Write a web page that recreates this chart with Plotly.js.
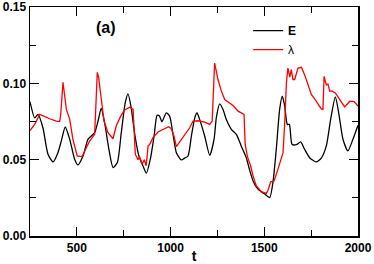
<!DOCTYPE html>
<html><head><meta charset="utf-8">
<script src="https://cdn.plot.ly/plotly-3.0.1.min.js"></script>
<style>html,body{margin:0;padding:0;background:#fff}#c{width:374px;height:264px}</style>
</head><body><div id="c"></div>
<script>
const tE = [250,275,293,319,346,373,399,417,438,462,488,506,533,559,577,595,613,630,648,671,693,716,737,758,773,790,809,831,853,871,892,912,928,940,954,977,995,1013,1031,1057,1075,1093,1111,1129,1141,1155,1182,1209,1232,1244,1262,1280,1297,1324,1351,1377,1404,1420,1440,1466,1502,1529,1546,1564,1582,1596,1609,1623,1634,1648,1671,1694,1715,1742,1777,1804,1831,1854,1879,1897,1920,1946,1973,2000];
const E = [0.088,0.0774,0.0797,0.0709,0.0536,0.0485,0.0546,0.0622,0.0714,0.0633,0.0503,0.0466,0.0524,0.0633,0.0655,0.0677,0.0753,0.0836,0.0742,0.0568,0.0448,0.0481,0.0677,0.0872,0.0931,0.0840,0.0666,0.0524,0.0459,0.0412,0.0503,0.0655,0.0790,0.0788,0.0748,0.0807,0.0785,0.0666,0.0546,0.0498,0.0510,0.0524,0.0655,0.0774,0.0807,0.0764,0.0655,0.0529,0.0633,0.0774,0.0866,0.0829,0.0764,0.0699,0.0666,0.0590,0.0513,0.0440,0.0361,0.0307,0.0275,0.0252,0.0350,0.0568,0.0829,0.0916,0.0851,0.0731,0.0730,0.0601,0.0598,0.0616,0.0568,0.0513,0.0485,0.0510,0.0590,0.0764,0.0911,0.0807,0.0633,0.0557,0.0633,0.0725];
const tL = [250,275,302,329,355,390,408,414,426,444,462,479,502,528,542,568,595,604,609,616,627,645,666,693,710,734,755,782,800,809,812,826,835,848,860,870,880,889,906,933,960,990,1004,1018,1031,1049,1075,1102,1120,1148,1182,1209,1222,1235,1253,1271,1289,1315,1333,1360,1392,1398,1410,1427,1440,1457,1484,1511,1520,1534,1552,1573,1600,1609,1618,1626,1636,1644,1653,1662,1671,1680,1698,1715,1733,1751,1777,1804,1813,1819,1831,1840,1849,1861,1879,1902,1929,1956,1979,2000];
const L = [0.069,0.0731,0.0797,0.0780,0.0768,0.0753,0.0750,0.0797,0.1007,0.0829,0.0764,0.0633,0.0524,0.0520,0.0557,0.0622,0.0666,0.0916,0.1072,0.1040,0.0916,0.0753,0.0677,0.0637,0.0720,0.0785,0.0825,0.0844,0.0829,0.0633,0.0536,0.0500,0.0520,0.0470,0.0500,0.0460,0.0590,0.0600,0.0644,0.0681,0.0699,0.0716,0.0703,0.0655,0.0585,0.0616,0.0655,0.0709,0.0753,0.0755,0.0746,0.0731,0.0753,0.1133,0.1025,0.0949,0.0894,0.0872,0.0855,0.0818,0.0797,0.0600,0.0520,0.0460,0.0394,0.0329,0.0290,0.0279,0.0300,0.0355,0.0360,0.0438,0.0546,0.0742,0.1003,0.1100,0.1040,0.1090,0.1025,0.1025,0.1070,0.1100,0.1105,0.1057,0.0992,0.0927,0.0883,0.0833,0.0830,0.1046,0.0990,0.0995,0.0949,0.0950,0.0937,0.0894,0.0846,0.0883,0.0880,0.0851];
const names = ['<b>E</b>', 'λ'];
const colors = ['#000000', '#ff0000'];
const xTicks = [500, 1000, 1500, 2000];
const yTicks = [0.00, 0.05, 0.10, 0.15];

const tf = {family:'Liberation Sans, Arial, sans-serif', size:12, color:'#000', weight:'bold'};
const axBase = {showgrid:false, zeroline:false, showline:true, linecolor:'#000', linewidth:1.5,
  mirror:'ticks', ticks:'inside', ticklen:9, tickwidth:1.2, tickcolor:'#000', tickfont:tf,
  ticklabeloverflow:'allow'};
const data = [
  {x:tE, y:E, name:names[0], type:'scatter', mode:'lines', line:{color:colors[0], width:1.3, shape:'spline', smoothing:0.6}},
  {x:tL, y:L, name:names[1], type:'scatter', mode:'lines', line:{color:colors[1], width:1.3}}
];
const layout = {
  width:374, height:264, margin:{l:30, r:16, t:7, b:28},
  paper_bgcolor:'#fff', plot_bgcolor:'#fff', showlegend:true,
  xaxis:Object.assign({}, axBase, {range:[250,2000], tickvals:xTicks, ticktext:xTicks.map(String),
    minor:{ticks:'inside', ticklen:6, tickwidth:1.2, tickcolor:'#000', tickvals:[750,1250,1750]},
    title:{text:'<b>t</b>', font:{family:'Liberation Sans, Arial, sans-serif', size:14, color:'#000'}, standoff:3}}),
  yaxis:Object.assign({}, axBase, {range:[0,0.15], tickvals:yTicks, ticktext:yTicks.map(v=>v.toFixed(2)),
    minor:{ticks:'inside', ticklen:6, tickwidth:1.2, tickcolor:'#000', tickvals:[0.025,0.075,0.125]}}),
  legend:{x:0.665, y:0.96, xanchor:'left', yanchor:'top', bgcolor:'rgba(0,0,0,0)',
    font:{family:'Liberation Sans, Arial, sans-serif', size:12, color:'#000'}, tracegroupgap:0},
  annotations:[{text:'<b>(a)</b>', xref:'paper', yref:'paper', x:0.232, y:0.91, showarrow:false,
    xanchor:'center', yanchor:'middle', font:{family:'Liberation Sans, Arial, sans-serif', size:16, color:'#000'}}]
};
Plotly.newPlot('c', data, layout, {staticPlot:true, displayModeBar:false});
</script></body></html>
